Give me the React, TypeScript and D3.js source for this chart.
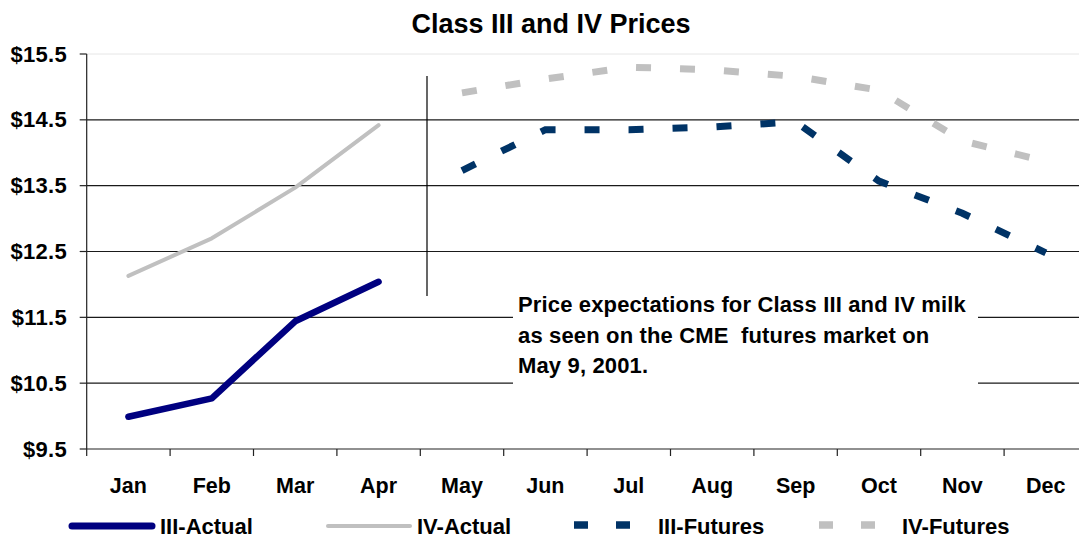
import React from "react";
import * as d3 from "d3";

const months = ["Jan", "Feb", "Mar", "Apr", "May", "Jun", "Jul", "Aug", "Sep", "Oct", "Nov", "Dec"];
const yTicks = [9.5, 10.5, 11.5, 12.5, 13.5, 14.5, 15.5];

const actualMonths = ["Jan", "Feb", "Mar", "Apr"];
const iiiActual = [9.99, 10.27, 11.44, 12.04];
const ivActual = [12.13, 12.7, 13.47, 14.42];

const futureMonths = ["May", "Jun", "Jul", "Aug", "Sep", "Oct", "Nov", "Dec"];
const iiiFutures = [13.73, 14.35, 14.35, 14.39, 14.47, 13.57, 13.08, 12.48];
const ivFutures = [14.91, 15.12, 15.3, 15.26, 15.16, 14.95, 14.18, 13.87];

const annotationLines = [
  "Price expectations for Class III and IV milk",
  "as seen on the CME  futures market on",
  "May 9, 2001.",
];

const W = 1079;
const H = 538;
const left = 86.7;
const right = left + 12 * 83.4;
const top = 54;
const bottom = 449;
const FONT = "'Liberation Sans', Arial, sans-serif";

export default function App() {
  const x = d3.scaleBand<string>().domain(months).range([left, right]).paddingInner(0).paddingOuter(0);
  const y = d3.scaleLinear().domain([9.5, 15.5]).range([bottom, top]);
  const cx = (m: string) => (x(m) as number) + x.bandwidth() / 2;

  const line = d3
    .line<[string, number]>()
    .x((d) => cx(d[0]))
    .y((d) => y(d[1]));

  const zip = (ms: string[], vs: number[]) => ms.map((m, i) => [m, vs[i]] as [string, number]);

  const boundaries = d3.range(months.length + 1).map((i) => left + i * x.bandwidth());

  const dash = "15,29";

  return (
    <svg width={W} height={H} style={{ position: "absolute", left: 0, top: 0, background: "#fff" }} fontFamily={FONT}>
      <rect x={0} y={0} width={W} height={H} fill="#fff" />
      <text x={551} y={33} textAnchor="middle" fontSize={27} fontWeight="bold" fill="#000">
        Class III and IV Prices
      </text>

      {/* top border of plot area */}
      <line x1={left} x2={W} y1={y(15.5)} y2={y(15.5)} stroke="#e6e6e6" strokeWidth={1} />
      {/* gridlines */}
      {yTicks
        .filter((t) => t !== 9.5 && t !== 15.5)
        .map((t) => (
          <line key={t} x1={left} x2={W} y1={y(t)} y2={y(t)} stroke="#1a1a1a" strokeWidth={1.2} />
        ))}

      {/* axes */}
      <line x1={left} x2={left} y1={top} y2={bottom} stroke="#222" strokeWidth={1.2} />
      <line x1={left} x2={W} y1={bottom} y2={bottom} stroke="#222" strokeWidth={1.2} />
      {yTicks.map((t) => (
        <g key={"yt" + t}>
          <line x1={left - 7} x2={left} y1={y(t)} y2={y(t)} stroke="#222" strokeWidth={1.2} />
          <text x={67} y={y(t) + 7.5} textAnchor="end" fontSize={22} fontWeight="bold" letterSpacing={0.3} fill="#000">
            {"$" + t.toFixed(1)}
          </text>
        </g>
      ))}
      {boundaries.map((b, i) => (
        <line key={"xt" + i} x1={b} x2={b} y1={bottom} y2={bottom + 7} stroke="#222" strokeWidth={1.2} />
      ))}
      {months.map((m) => (
        <text key={m} x={cx(m)} y={493} textAnchor="middle" fontSize={21.5} fontWeight="bold" fill="#000">
          {m}
        </text>
      ))}

      {/* annotation box */}
      <rect x={513} y={288} width={465} height={98} fill="#fff" />
      {annotationLines.map((l, i) => (
        <text key={i} x={518} y={312 + i * 30.5} fontSize={22} fontWeight="bold" letterSpacing={0.15} fill="#000" style={{ whiteSpace: "pre" }}>
          {l}
        </text>
      ))}

      {/* vertical divider */}
      <line x1={427} x2={427} y1={76} y2={296} stroke="#000" strokeWidth={1.2} />

      {/* series */}
      <path d={line(zip(actualMonths, ivActual)) || ""} fill="none" stroke="#c0c0c0" strokeWidth={4} strokeLinecap="round" strokeLinejoin="round" />
      <path d={line(zip(actualMonths, iiiActual)) || ""} fill="none" stroke="#000080" strokeWidth={6.5} strokeLinecap="round" strokeLinejoin="round" />
      <path d={line(zip(futureMonths, ivFutures)) || ""} fill="none" stroke="#c0c0c0" strokeWidth={7} strokeDasharray={dash} strokeLinecap="butt" />
      <path d={line(zip(futureMonths, iiiFutures)) || ""} fill="none" stroke="#003366" strokeWidth={7} strokeDasharray={dash} strokeLinecap="butt" />

      {/* legend */}
      <line x1={72} x2={152} y1={526} y2={526} stroke="#000080" strokeWidth={7} strokeLinecap="round" />
      <text x={160} y={533.5} fontSize={22} fontWeight="bold" fill="#000">III-Actual</text>
      <line x1={328} x2={410} y1={526} y2={526} stroke="#c0c0c0" strokeWidth={4} strokeLinecap="round" />
      <text x={417} y={533.5} fontSize={22} fontWeight="bold" fill="#000">IV-Actual</text>
      <line x1={574} x2={640} y1={525} y2={525} stroke="#003366" strokeWidth={7.5} strokeDasharray="14,28" />
      <text x={658} y={533.5} fontSize={22} fontWeight="bold" fill="#000">III-Futures</text>
      <line x1={819} x2={885} y1={525} y2={525} stroke="#c0c0c0" strokeWidth={7.5} strokeDasharray="14,28" />
      <text x={902} y={533.5} fontSize={22} fontWeight="bold" fill="#000">IV-Futures</text>
    </svg>
  );
}
